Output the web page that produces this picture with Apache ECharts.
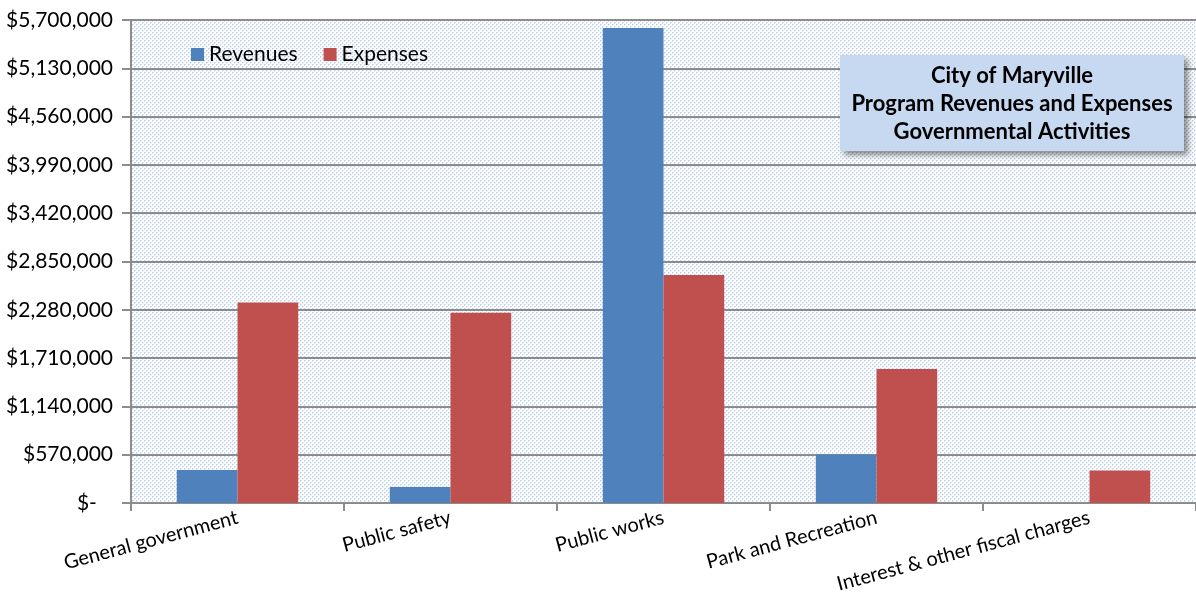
<!DOCTYPE html>
<html><head><meta charset="utf-8">
<script src="https://cdn.jsdelivr.net/npm/echarts@6/dist/echarts.min.js"></script>
<style>html,body{margin:0;padding:0;background:#fff}#c{width:1196px;height:600px}</style>
</head><body><div id="c"></div>
<script>
const categories = ["General government", "Public safety", "Public works", "Park and Recreation", "Interest & other fiscal charges"];
const revenues = [390000, 190000, 5605000, 572000, 0];
const expenses = [2365000, 2245000, 2690000, 1580000, 385000];
const yTicks = [0, 570000, 1140000, 1710000, 2280000, 2850000, 3420000, 3990000, 4560000, 5130000, 5700000];
const titleLines = ["City of Maryville", "Program Revenues and Expenses", "Governmental Activities"];

const FONT = 'Lato, "Open Sans", sans-serif';
const tile = document.createElement('canvas');
tile.width = 4; tile.height = 4;
const tc = tile.getContext('2d');
tc.fillStyle = '#ffffff'; tc.fillRect(0,0,4,4);
tc.fillStyle = '#b9cdec';
tc.fillRect(0,0,1,1); tc.fillRect(2,2,1,1);
tc.fillStyle = '#dbe6f6';
tc.fillRect(1,0,1,1); tc.fillRect(0,1,1,1); tc.fillRect(3,2,1,1); tc.fillRect(2,3,1,1);

const chart = echarts.init(document.getElementById('c'), null, {renderer:'canvas'});
chart.setOption({
  animation: false,
  textStyle: {fontFamily: FONT},
  grid: {left: 131, right: 0, top: 20, bottom: 97, show: true, borderWidth: 0,
         backgroundColor: {image: tile, repeat: 'repeat'}},
  legend: {left: 186, top: 39, itemWidth: 13, itemHeight: 13, itemGap: 26, icon: 'rect',
           textStyle: {fontSize: 21, color: '#000', fontFamily: FONT},
           data: ['Revenues', 'Expenses']},
  xAxis: {type: 'category', data: categories,
          axisLine: {lineStyle: {color: '#8c8c8c', width: 2}},
          axisTick: {show: true, length: 8, lineStyle: {color: '#8c8c8c', width: 2}},
          axisLabel: {rotate: 15, fontSize: 20, color: '#000', margin: 14, fontFamily: FONT, interval: 0}},
  yAxis: {type: 'value', min: yTicks[0], max: yTicks[yTicks.length-1], interval: yTicks[1]-yTicks[0],
          axisLine: {show: true, lineStyle: {color: '#8c8c8c', width: 2}},
          axisTick: {show: true, length: 9, lineStyle: {color: '#8c8c8c', width: 2}},
          splitLine: {lineStyle: {color: '#8c8c8c', width: 2}},
          axisLabel: {fontSize: 21, color: '#000', margin: 18, fontFamily: FONT,
                      formatter: v => v === 0 ? '$-   ' : '$' + v.toLocaleString('en-US')}},
  series: [
    {name: 'Revenues', type: 'bar', data: revenues, barGap: '0%', barCategoryGap: '43%',
     itemStyle: {color: '#4f81bd'}},
    {name: 'Expenses', type: 'bar', data: expenses, barGap: '0%', barCategoryGap: '43%',
     itemStyle: {color: '#c0504d'}}
  ],
  graphic: [
    {type: 'rect', shape: {x: 840, y: 55, width: 344, height: 96},
     style: {fill: '#c6d9f1', shadowBlur: 6, shadowOffsetX: 4, shadowOffsetY: 4, shadowColor: 'rgba(0,0,0,0.45)'}, z: 100},
    {type: 'text', x: 1012, y: 104, z: 101,
     style: {text: titleLines.join('\n'), align: 'center', verticalAlign: 'middle', lineHeight: 28,
             font: 'bold 22px ' + FONT, fill: '#000'}}
  ]
});
</script></body></html>
